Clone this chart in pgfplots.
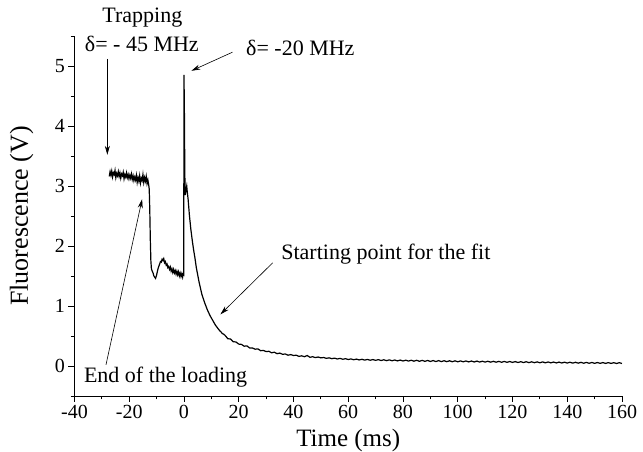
\documentclass[border=0pt]{standalone}
\usepackage{fontspec}
\setmainfont{Liberation Serif}
\usepackage{pgfplots}
\pgfplotsset{compat=1.18}
\usetikzlibrary{arrows.meta}
\begin{document}
\begin{tikzpicture}
\begin{axis}[
  scale only axis, width=547.5pt, height=360pt,
  xmin=-40, xmax=160, ymin=-0.5, ymax=5.5,
  axis x line*=bottom, axis y line*=left,
  axis line style={-, line width=0.8pt},
  xtick={-40,-20,0,20,40,60,80,100,120,140,160},
  xticklabels={-40,-20,0,20,40,60,80,100,120,140,160},
  ytick={0,1,2,3,4,5}, yticklabels={0,1,2,3,4,5},
  minor xtick={-30,-10,10,30,50,70,90,110,130,150},
  minor ytick={-0.5,0.5,1.5,2.5,3.5,4.5,5.5},
  tick align=outside, major tick length=6pt, minor tick length=3.5pt,
  tick style={line width=0.8pt, black},
  ticklabel style={font=\fontsize{20}{24}\selectfont},
  xlabel={Time (ms)}, ylabel={Fluorescence (V)},
  xlabel style={font=\fontsize{25}{30}\selectfont, at={(axis description cs:0.5,0)}, anchor=center, yshift=-44pt},
  ylabel style={font=\fontsize{26}{30}\selectfont, at={(axis description cs:0,0.5)}, anchor=center, yshift=52.8pt},
  clip=false,
]
\addplot[black, line width=1.2pt] coordinates {
(-27.3,3.16) (-27.0,3.24) (-26.7,3.18) (-26.4,3.25) (-26.1,3.15) (-25.8,3.22) (-25.5,3.19) (-25.2,3.26)
(-24.9,3.14) (-24.6,3.21) (-24.3,3.17) (-24.0,3.24) (-23.7,3.16) (-23.4,3.22) (-23.1,3.13) (-22.8,3.20)
(-22.5,3.17) (-22.2,3.23) (-21.9,3.12) (-21.6,3.19) (-21.3,3.15) (-21.0,3.22) (-20.7,3.14) (-20.4,3.19)
(-20.1,3.12) (-19.8,3.18) (-19.5,3.13) (-19.2,3.20) (-18.9,3.11) (-18.6,3.17) (-18.3,3.09) (-18.0,3.15)
(-17.7,3.10) (-17.4,3.18) (-17.1,3.06) (-16.8,3.14) (-16.5,3.08) (-16.2,3.17) (-15.9,3.05) (-15.6,3.13)
(-15.3,3.09) (-15.0,3.19) (-14.7,3.06) (-14.4,3.14) (-14.1,3.08) (-13.8,3.16) (-13.5,3.04) (-13.2,3.10)
(-12.9,3.02) (-12.7,2.95) (-12.5,2.60) (-12.3,2.10) (-12.1,1.75) (-11.9,1.62) (-11.6,1.58) (-11.3,1.55)
(-11.0,1.50) (-10.7,1.48) (-10.4,1.46) (-10.1,1.50) (-9.8,1.56) (-9.5,1.62) (-9.2,1.66) (-8.9,1.70)
(-8.6,1.74) (-8.3,1.73) (-8.0,1.78) (-7.7,1.76) (-7.4,1.79) (-7.1,1.72) (-6.8,1.74) (-6.5,1.68)
(-6.2,1.70) (-5.9,1.64) (-5.6,1.66) (-5.3,1.61) (-5.0,1.65) (-4.7,1.58) (-4.4,1.62) (-4.1,1.56)
(-3.8,1.61) (-3.5,1.55) (-3.2,1.59) (-2.9,1.53) (-2.6,1.58) (-2.3,1.52) (-2.0,1.57) (-1.7,1.50)
(-1.4,1.55) (-1.1,1.49) (-0.8,1.54) (-0.5,1.48) (-0.3,1.53) (-0.1,1.52)
(0.0,4.85) (0.15,4.2) (0.3,3.2) (0.45,2.85) (0.6,2.90) (0.8,2.95) (1.0,3.0) (1.2,2.90)
(1.5,2.78) (2.0,2.50) (2.5,2.28) (3.0,2.10) (3.5,1.94) (4.0,1.80) (4.5,1.64) (5.0,1.52)
(5.5,1.40) (6.0,1.30) (6.5,1.20) (7.0,1.13) (7.5,1.06) (8.0,1.00) (8.5,0.94) (9.0,0.89)
(9.5,0.84) (10,0.80) (10.5,0.76) (11,0.72) (11.5,0.68) (12,0.65) (12.5,0.62) (13,0.59)
(13.5,0.57) (14,0.54) (14.5,0.53)
(15,.51) (16,.455) (17,.45) (18,.405) (19,.40) (20,.365) (21,.36) (22,.33) (23,.335) (24,.30)
(25,.30) (26,.28) (27,.285) (28,.255) (29,.26) (30,.24) (31,.245) (32,.22) (33,.23) (34,.205)
(35,.215) (36,.195) (37,.20) (38,.18) (39,.19) (40,.175) (41,.18) (42,.16) (43,.17) (44,.155)
(45,.175) (46,.145) (47,.155) (48,.14) (49,.15) (50,.135) (51,.142) (52,.128) (53,.136) (54,.122)
(55,.131) (56,.117) (57,.127) (58,.112) (59,.122) (60,.108) (61,.118) (62,.104) (63,.115) (64,.101)
(65,.112) (66,.098) (67,.110) (68,.096) (69,.107) (70,.094) (71,.106) (72,.091) (73,.104) (74,.089)
(75,.102) (76,.087) (77,.100) (78,.085) (79,.099) (80,.083) (81,.097) (82,.082) (83,.096) (84,.080)
(85,.095) (86,.078) (87,.094) (88,.077) (89,.092) (90,.076) (91,.091) (92,.074) (93,.090) (94,.073)
(95,.088) (96,.072) (97,.087) (98,.071) (99,.086) (100,.070) (101,.085) (102,.069) (103,.084) (104,.068)
(105,.083) (106,.067) (107,.082) (108,.066) (109,.080) (110,.065) (111,.079) (112,.064) (113,.078) (114,.063)
(115,.077) (116,.062) (117,.076) (118,.061) (119,.075) (120,.060) (121,.073) (122,.058) (123,.072) (124,.057)
(125,.071) (126,.056) (127,.070) (128,.055) (129,.069) (130,.054) (131,.068) (132,.053) (133,.067) (134,.052)
(135,.066) (136,.051) (137,.065) (138,.050) (139,.064) (140,.049) (141,.063) (142,.048) (143,.062) (144,.047)
(145,.061) (146,.046) (147,.060) (148,.045) (149,.059) (150,.044) (151,.058) (152,.044) (153,.057) (154,.043)
(155,.056) (156,.043) (157,.055) (158,.042) (159,.055) (160,.042)
};
\node[font=\fontsize{22}{26}\selectfont] at (axis cs:-15.2,5.80) {Trapping};
\node[font=\fontsize{22}{26}\selectfont] at (axis cs:-15.4,5.37) {δ= - 45 MHz};
\node[font=\fontsize{22}{26}\selectfont] at (axis cs:42.5,5.30) {δ= -20 MHz};
\node[font=\fontsize{22}{26}\selectfont, anchor=west, inner sep=0pt] at (axis cs:35.5,1.87) {Starting point for the fit};
\node[font=\fontsize{22}{26}\selectfont, anchor=west, inner sep=0pt] at (axis cs:-36.6,-0.19) {End of the loading};
\draw[-{Stealth[length=9pt,width=5pt]}, line width=0.6pt] (axis cs:-28,5.12) -- (axis cs:-28,3.52);
\draw[-{Stealth[length=9pt,width=5pt]}, line width=0.6pt] (axis cs:17.7,5.23) -- (axis cs:2.7,4.92);
\draw[-{Stealth[length=9pt,width=5pt]}, line width=0.6pt] (axis cs:32.4,1.72) -- (axis cs:13.3,0.86);
\draw[-{Stealth[length=9pt,width=5pt]}, line width=0.6pt] (axis cs:-28.5,0.02) -- (axis cs:-15.3,2.78);
\end{axis}
\pgfresetboundingbox
\path[use as bounding box] (-74.5pt,-56pt) rectangle (568.5pt,396pt);
\end{tikzpicture}
\end{document}
